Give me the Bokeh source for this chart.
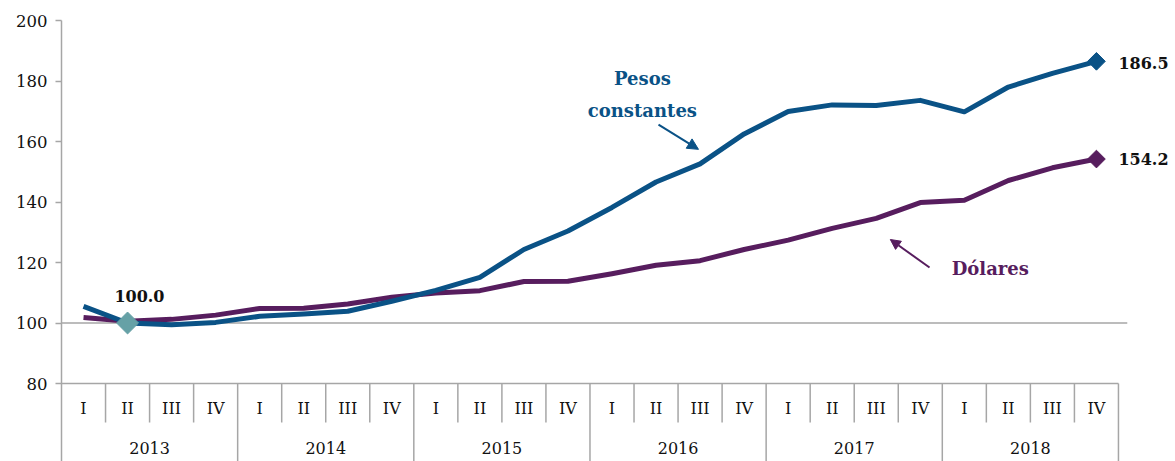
import numpy as np
from bokeh.plotting import figure
from bokeh.models import Range1d, FixedTicker, Arrow, NormalHead
from bokeh.core.properties import value
from bokeh.embed import file_html
from bokeh.resources import INLINE

# ---- data ----
years = ["2013", "2014", "2015", "2016", "2017", "2018"]
quarters = ["I", "II", "III", "IV"]
pesos = [105.5, 100.0, 99.4, 100.2, 102.2, 103.0, 103.9, 107.2, 110.8, 115.1, 124.3, 130.4,
         138.2, 146.6, 152.6, 162.5, 169.9, 172.1, 171.9, 173.6, 169.8, 178.0, 182.5, 186.5]
dolares = [101.8, 100.6, 101.2, 102.6, 104.8, 104.9, 106.3, 108.5, 109.9, 110.7, 113.7, 113.8,
           116.3, 119.1, 120.6, 124.3, 127.4, 131.3, 134.6, 139.8, 140.6, 147.1, 151.3, 154.2]
y_ticks = [80, 100, 120, 140, 160, 180, 200]
series_pesos = ["Pesos", "constantes"]
series_dolares = "Dólares"

# ---- styling / layout ----
BLUE = "#0a5286"
PURPLE = "#571d5e"
TEAL = "#66a1a6"
GRAY = "#a6a6a6"
TXT = "#111111"
SERIF = "DejaVu Serif"

LEFT = 61
TOP = 20
W, H = 1175, 461
PX_PER_UNIT = 3.025
FRAME_H = H - TOP
Y_TOP = 200
Y_BOTTOM = Y_TOP - FRAME_H / PX_PER_UNIT
CAT_W = 44.04
FRAME_W = W - LEFT
X_END = FRAME_W / CAT_W

nq = len(quarters)
n = len(years) * nq
x = [i + 0.5 for i in range(n)]

p = figure(frame_width=FRAME_W, frame_height=FRAME_H,
           x_range=Range1d(0, X_END), y_range=Range1d(Y_BOTTOM, Y_TOP),
           output_backend="svg", toolbar_location=None, x_axis_location=None,
           min_border_left=LEFT, min_border_right=0, min_border_top=TOP, min_border_bottom=0)
p.outline_line_color = None
p.xgrid.visible = False
p.ygrid.visible = False

ax = p.yaxis[0]
ax.ticker = FixedTicker(ticks=y_ticks)
ax.axis_line_color = GRAY
ax.axis_line_width = 1.5
ax.major_tick_line_color = GRAY
ax.major_tick_line_width = 1.5
ax.major_tick_out = 6
ax.major_tick_in = 0
ax.minor_tick_line_color = None
ax.major_label_text_font = SERIF
ax.major_label_text_font_size = "16.5px"
ax.major_label_text_color = TXT
ax.major_label_standoff = 8

# horizontal rules: baseline at 80 and reference line at 100
p.segment(x0=[0, 0], y0=[y_ticks[0], 100], x1=[n, n + 0.2], y1=[y_ticks[0], 100],
          line_color=GRAY, line_width=1.5)

# category table separators
Q_SEP_BOTTOM = y_ticks[0] - 39 / PX_PER_UNIT
q_sep = [i for i in range(1, n) if i % nq != 0]
y_sep = [i for i in range(nq, n + 1, nq)]
p.segment(x0=q_sep, y0=[y_ticks[0]] * len(q_sep), x1=q_sep, y1=[Q_SEP_BOTTOM] * len(q_sep),
          line_color=GRAY, line_width=1.5)
p.segment(x0=y_sep, y0=[y_ticks[0]] * len(y_sep), x1=y_sep, y1=[Y_BOTTOM] * len(y_sep),
          line_color=GRAY, line_width=1.5)

Q_LABEL_Y = y_ticks[0] - 25 / PX_PER_UNIT
Y_LABEL_Y = y_ticks[0] - 64 / PX_PER_UNIT
p.text(x=x, y=[Q_LABEL_Y] * n, text=quarters * len(years), text_align="center",
       text_baseline="middle", text_font=value(SERIF), text_font_size="16px", text_color=TXT)
p.text(x=[i * nq + nq / 2 for i in range(len(years))], y=[Y_LABEL_Y] * len(years), text=years,
       text_align="center", text_baseline="middle", text_font=value(SERIF),
       text_font_size="16px", text_color=TXT)

# series
p.line(x, dolares, line_color=PURPLE, line_width=5, line_join="round")
p.line(x, pesos, line_color=BLUE, line_width=5, line_join="round")

p.scatter([x[-1]], [pesos[-1]], marker="square", angle=np.pi / 4, size=12.5,
          fill_color=BLUE, line_color=BLUE)
p.scatter([x[-1]], [dolares[-1]], marker="square", angle=np.pi / 4, size=12.5,
          fill_color=PURPLE, line_color=PURPLE)
p.scatter([x[1]], [pesos[1]], marker="square", angle=np.pi / 4, size=15.5,
          fill_color=TEAL, line_color=TEAL)

# value labels
def bold(size):
    return dict(text_font=value(SERIF), text_font_style="bold", text_font_size=size,
                text_baseline="middle")

p.text(x=[x[1] + 0.27], y=[pesos[1] + 8.8], text=[f"{pesos[1]:.1f}"], text_align="center",
       text_color=TXT, **bold("16px"))
p.text(x=[x[-1] + 0.5], y=[pesos[-1] - 0.6], text=[f"{pesos[-1]:.1f}"], text_align="left",
       text_color=TXT, **bold("16px"))
p.text(x=[x[-1] + 0.5], y=[dolares[-1]], text=[f"{dolares[-1]:.1f}"], text_align="left",
       text_color=TXT, **bold("16px"))

# series annotations
p.text(x=[13.19, 13.19], y=[180.8, 170.25], text=series_pesos, text_align="center",
       text_color=BLUE, **bold("18px"))
p.text(x=[21.09], y=[118.0], text=[series_dolares], text_align="center",
       text_color=PURPLE, **bold("18px"))

p.add_layout(Arrow(end=NormalHead(size=11, fill_color=BLUE, line_color=BLUE),
                   x_start=13.556, y_start=165.6, x_end=14.464, y_end=157.4,
                   line_color=BLUE, line_width=2))
p.add_layout(Arrow(end=NormalHead(size=10, fill_color=PURPLE, line_color=PURPLE),
                   x_start=19.71, y_start=118.35, x_end=18.82, y_end=127.6,
                   line_color=PURPLE, line_width=2))

open("out.html", "w").write(file_html(p, INLINE))
